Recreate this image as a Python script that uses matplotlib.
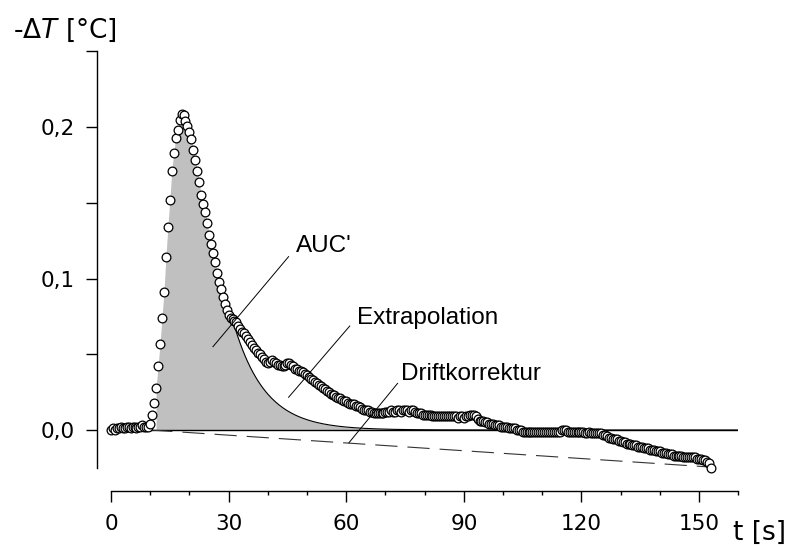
import numpy as np
import matplotlib.pyplot as plt
from matplotlib.ticker import FixedLocator, FixedFormatter

# Messwerte: Temperaturabsenkung, alle 0,5 s abgetastet
dt = 0.5
dT = [
    0.000, 0.001, 0.000, 0.001, 0.001, 0.002, 0.001, 0.001, 0.002, 0.002,
    0.001, 0.002, 0.002, 0.001, 0.002, 0.002, 0.003, 0.002, 0.002, 0.002,
    0.004, 0.010, 0.018, 0.028, 0.042, 0.057, 0.074, 0.091, 0.114, 0.134,
    0.152, 0.171, 0.183, 0.193, 0.198, 0.205, 0.209, 0.208, 0.204, 0.201,
    0.197, 0.192, 0.185, 0.178, 0.171, 0.164, 0.155, 0.149, 0.144, 0.137,
    0.129, 0.123, 0.117, 0.111, 0.104, 0.098, 0.093, 0.088, 0.083, 0.079,
    0.076, 0.074, 0.073, 0.072, 0.071, 0.069, 0.067, 0.065, 0.064, 0.062,
    0.060, 0.058, 0.056, 0.054, 0.053, 0.051, 0.050, 0.048, 0.047, 0.045,
    0.044, 0.045, 0.046, 0.045, 0.044, 0.043, 0.043, 0.042, 0.042, 0.043,
    0.044, 0.044, 0.043, 0.042, 0.040, 0.040, 0.039, 0.039, 0.038, 0.037,
    0.036, 0.035, 0.034, 0.033, 0.032, 0.031, 0.030, 0.029, 0.028, 0.027,
    0.026, 0.025, 0.024, 0.023, 0.023, 0.022, 0.021, 0.021, 0.020, 0.019,
    0.019, 0.018, 0.017, 0.017, 0.017, 0.016, 0.016, 0.015, 0.014, 0.013,
    0.013, 0.013, 0.012, 0.012, 0.011, 0.011, 0.011, 0.011, 0.011, 0.011,
    0.012, 0.012, 0.012, 0.013, 0.012, 0.012, 0.013, 0.013, 0.012, 0.013,
    0.013, 0.013, 0.012, 0.013, 0.013, 0.012, 0.011, 0.011, 0.011, 0.010,
    0.010, 0.010, 0.010, 0.010, 0.009, 0.009, 0.009, 0.009, 0.009, 0.009,
    0.009, 0.009, 0.009, 0.009, 0.009, 0.009, 0.009, 0.008, 0.009, 0.009,
    0.008, 0.009, 0.009, 0.010, 0.010, 0.010, 0.009, 0.007, 0.006, 0.006,
    0.006, 0.005, 0.005, 0.004, 0.004, 0.004, 0.003, 0.003, 0.003, 0.002,
    0.002, 0.002, 0.002, 0.001, 0.001, 0.001, 0.001, 0.000, 0.000, 0.000,
    -0.001, -0.001, -0.001, -0.001, -0.001, -0.001, -0.001, -0.001, -0.001, -0.001,
    -0.001, -0.001, -0.001, -0.001, -0.001, -0.001, -0.001, -0.001, -0.001, -0.001,
    0.000, 0.000, 0.000, -0.001, -0.001, -0.001, -0.001, -0.001, -0.001, -0.001,
    -0.001, -0.001, -0.002, -0.002, -0.001, -0.002, -0.002, -0.002, -0.002, -0.002,
    -0.002, -0.003, -0.003, -0.004, -0.005, -0.005, -0.006, -0.006, -0.006, -0.007,
    -0.007, -0.008, -0.008, -0.009, -0.009, -0.009, -0.010, -0.010, -0.010, -0.011,
    -0.011, -0.011, -0.012, -0.012, -0.012, -0.013, -0.013, -0.013, -0.014, -0.014,
    -0.014, -0.015, -0.015, -0.015, -0.016, -0.016, -0.016, -0.017, -0.017, -0.017,
    -0.017, -0.017, -0.018, -0.018, -0.018, -0.018, -0.018, -0.018, -0.018, -0.019,
    -0.019, -0.019, -0.020, -0.020, -0.021, -0.022, -0.025,
]

# Exponentielle Extrapolation des abklingenden Astes
t_ext0 = 31.0
dT_ext0 = 0.073
tau = 8.0
t_fill0 = 11.5

# Driftkorrektur (Gerade zwischen Start und Ende)
drift_t = [10.0, 153.0]
drift_dT = [0.0, -0.0245]

x_major = [0, 30, 60, 90, 120, 150]
x_minor = [10, 20, 40, 50, 70, 80, 100, 110, 130, 140, 160]
y_major = [0.0, 0.1, 0.2]
y_major_labels = ['0,0', '0,1', '0,2']
y_minor = [0.05, 0.15, 0.25]

t = np.arange(len(dT)) * dt
dT = np.array(dT)

t_ext = np.linspace(t_ext0, 160, 400)
dT_ext = dT_ext0 * np.exp(-(t_ext - t_ext0) / tau)

fig = plt.figure(figsize=(8, 5.47), dpi=100)
ax = fig.add_axes([0.13875, 0.1447, 0.7841, 0.7612])
ax.set_xlim(0, 160)
ax.set_ylim(-0.025, 0.25)

# AUC' - Flaeche unter Messkurve bzw. Extrapolation
m = (t >= t_fill0) & (t <= t_ext0)
ft = np.concatenate([t[m], t_ext])
fy = np.concatenate([dT[m], dT_ext])
ax.fill_between(ft, 0, fy, color='#c0c0c0', lw=0, zorder=1)

ax.plot([0, 160], [0, 0], color='k', lw=1.0, zorder=2)
ax.plot(t_ext, dT_ext, color='k', lw=0.8, zorder=2)
ax.plot(drift_t, drift_dT, color='#333333', lw=0.8, dashes=(20, 9), zorder=2)

ax.plot(t, dT, 'o', ms=6.3, mfc='white', mec='k', mew=0.9, zorder=3,
        clip_on=False)

# Beschriftungen mit Hinweislinien
afont = dict(family='Liberation Sans', fontsize=17.5)
ax.text(47.3, 0.1176, "AUC'", ha='left', va='baseline', **afont)
ax.plot([45.3, 26.0], [0.1145, 0.055], color='k', lw=0.7, zorder=4)
ax.text(62.7, 0.070, 'Extrapolation', ha='left', va='baseline', **afont)
ax.plot([60.9, 45.3], [0.0687, 0.0216], color='k', lw=0.7, zorder=4)
ax.text(73.9, 0.033, 'Driftkorrektur', ha='left', va='baseline', **afont)
ax.plot([73.1, 60.7], [0.0308, -0.0084], color='k', lw=0.7, zorder=4)

# Achsen
for s in ('top', 'right'):
    ax.spines[s].set_visible(False)
ax.spines['left'].set_position(('outward', 9.9))
ax.spines['left'].set_bounds(-0.025, 0.25)
ax.spines['bottom'].set_position(('outward', 16.4))
ax.spines['bottom'].set_bounds(0, 160)
for s in ('left', 'bottom'):
    ax.spines[s].set_linewidth(1.0)

ax.xaxis.set_major_locator(FixedLocator(x_major))
ax.xaxis.set_minor_locator(FixedLocator(x_minor))
ax.yaxis.set_major_locator(FixedLocator(y_major))
ax.yaxis.set_major_formatter(FixedFormatter(y_major_labels))
ax.yaxis.set_minor_locator(FixedLocator(y_minor))

ax.tick_params(axis='x', which='major', length=8, width=1.0, pad=9,
               labelsize=15.5)
ax.tick_params(axis='x', which='minor', length=3, width=1.0)
ax.tick_params(axis='y', which='both', length=8, width=1.0, pad=8,
               labelsize=15.5)

fig.text(13 / 800, 1 - 37.5 / 547, r'-$\mathit{\Delta T}$ [°C]',
         fontsize=19, va='baseline', ha='left')
fig.text(733 / 800, 1 - 540 / 547, 't [s]', fontsize=19,
         va='baseline', ha='left')

fig.savefig('out.png', dpi=100)
